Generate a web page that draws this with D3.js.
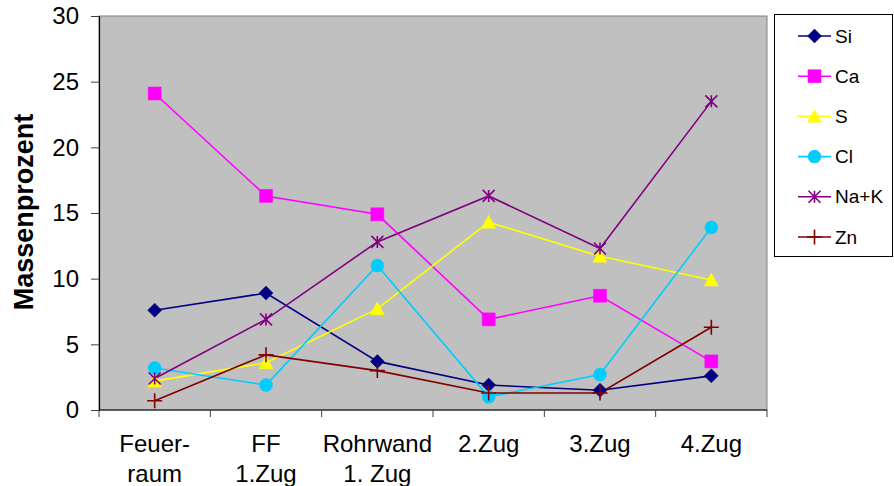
<!DOCTYPE html>
<html>
<head>
<meta charset="utf-8">
<script src="https://cdn.jsdelivr.net/npm/d3@7"></script>
<style>
  html, body { margin: 0; padding: 0; background: #ffffff; }
  svg { display: block; }
  text { font-family: "Liberation Sans", Arial, sans-serif; fill: #000; }
</style>
</head>
<body>
<svg id="chart" width="894" height="486"></svg>
<script>
// Sampling positions along the flue gas path (two-line labels)
const categories = [
  ["Feuer-", "raum"],
  ["FF", "1.Zug"],
  ["Rohrwand", "1. Zug"],
  ["2.Zug"],
  ["3.Zug"],
  ["4.Zug"]
];

// Mass percent per element
const si   = [7.6, 8.9, 3.7, 1.9, 1.5, 2.6];
const ca   = [24.1, 16.3, 14.9, 6.9, 8.7, 3.7];
const s    = [2.2, 3.6, 7.7, 14.3, 11.7, 9.9];
const cl   = [3.2, 1.9, 11.0, 1.0, 2.7, 13.9];
const naK  = [2.4, 6.9, 12.8, 16.3, 12.3, 23.5];
const zn   = [0.7, 4.2, 3.0, 1.3, 1.3, 6.3];

const seriesNames = ["Si", "Ca", "S", "Cl", "Na+K", "Zn"];
const yTicks = [0, 5, 10, 15, 20, 25, 30];

// Marker shapes as d3 symbol types (size = edge length squared)
const diamond = { draw(c, size) { const r = Math.sqrt(size) / 2;
  c.moveTo(0, -r); c.lineTo(r, 0); c.lineTo(0, r); c.lineTo(-r, 0); c.closePath(); } };
const square = { draw(c, size) { const r = Math.sqrt(size) / 2;
  c.rect(-r, -r, 2 * r, 2 * r); } };
const triangle = { draw(c, size) { const r = Math.sqrt(size) / 2;
  c.moveTo(0, -r); c.lineTo(r, r * 0.85); c.lineTo(-r, r * 0.85); c.closePath(); } };
const circle = { draw(c, size) { const r = Math.sqrt(size) / 2;
  c.moveTo(r, 0); c.arc(0, 0, r, 0, 2 * Math.PI); } };
const star = { draw(c, size) { const r = Math.sqrt(size) / 2;
  c.moveTo(0, -r); c.lineTo(0, r);
  c.moveTo(-r, -r); c.lineTo(r, r);
  c.moveTo(-r, r); c.lineTo(r, -r); } };
const plus = { draw(c, size) { const r = Math.sqrt(size) / 2;
  c.moveTo(0, -r); c.lineTo(0, r);
  c.moveTo(-r, 0); c.lineTo(r, 0); } };

const series = [
  { name: seriesNames[0], values: si,  color: "#000080", type: diamond,  size: 14 * 14, filled: true },
  { name: seriesNames[1], values: ca,  color: "#FF00FF", type: square,   size: 13 * 13, filled: true },
  { name: seriesNames[2], values: s,   color: "#FFFF00", type: triangle, size: 14 * 14, filled: true },
  { name: seriesNames[3], values: cl,  color: "#00CCFF", type: circle,   size: 13 * 13, filled: true },
  { name: seriesNames[4], values: naK, color: "#800080", type: star,     size: 12 * 12, filled: false },
  { name: seriesNames[5], values: zn,  color: "#800000", type: plus,     size: 15 * 15, filled: false }
];

const svg = d3.select("#chart");
const plot = { left: 99, top: 16, right: 767, bottom: 410 };

const x = d3.scaleBand()
  .domain(categories.map((d, i) => i))
  .range([plot.left, plot.right])
  .paddingInner(0).paddingOuter(0);
const y = d3.scaleLinear().domain([0, 30]).range([plot.bottom, plot.top]);
const cx = i => x(i) + x.bandwidth() / 2;

// Plot background
svg.append("rect")
  .attr("x", plot.left).attr("y", plot.top)
  .attr("width", plot.right - plot.left).attr("height", plot.bottom - plot.top)
  .attr("fill", "#C0C0C0").attr("stroke", "#808080").attr("stroke-width", 1);

// Y axis
const yAxis = svg.append("g")
  .attr("transform", `translate(${plot.left},0)`)
  .call(d3.axisLeft(y).tickValues(yTicks).tickSize(8).tickPadding(12).tickFormat(d3.format("d")));
yAxis.select(".domain").attr("stroke", "#000").attr("stroke-width", 1.2);
yAxis.selectAll(".tick line").attr("stroke", "#404040");
yAxis.selectAll(".tick text")
  .attr("font-size", 24).attr("font-family", "Liberation Sans, Arial, sans-serif").attr("fill", "#000");

// X axis with ticks on category boundaries
const bounds = d3.range(categories.length + 1).map(i => plot.left + i * x.bandwidth());
const xAxis = svg.append("g");
xAxis.append("line")
  .attr("x1", plot.left).attr("x2", plot.right)
  .attr("y1", plot.bottom).attr("y2", plot.bottom)
  .attr("stroke", "#000").attr("stroke-width", 1.2);
xAxis.selectAll("line.tick").data(bounds).join("line")
  .attr("class", "tick")
  .attr("x1", d => d).attr("x2", d => d)
  .attr("y1", plot.bottom).attr("y2", plot.bottom + 7)
  .attr("stroke", "#404040");
xAxis.selectAll("text.cat").data(categories).join("text")
  .attr("class", "cat")
  .attr("text-anchor", "middle")
  .attr("font-size", 24)
  .each(function (d, i) {
    const t = d3.select(this);
    d.forEach((line, j) => {
      t.append("tspan").attr("x", cx(i)).attr("y", 452 + j * 30).text(line);
    });
  });

// Y axis title
svg.append("text")
  .attr("transform", `translate(33,212) rotate(-90)`)
  .attr("text-anchor", "middle")
  .attr("font-size", 27)
  .attr("font-weight", "bold")
  .text("Massenprozent");

// Series lines and markers
const line = d3.line().x((d, i) => cx(i)).y(d => y(d));
const gSeries = svg.append("g");
series.forEach(sr => {
  gSeries.append("path")
    .datum(sr.values)
    .attr("d", line)
    .attr("fill", "none")
    .attr("stroke", sr.color)
    .attr("stroke-width", 1.6);
});
series.forEach(sr => {
  const sym = d3.symbol().type(sr.type).size(sr.size);
  gSeries.append("g").selectAll("path").data(sr.values).join("path")
    .attr("transform", (d, i) => `translate(${cx(i)},${y(d)})`)
    .attr("d", sym)
    .attr("fill", sr.filled ? sr.color : "none")
    .attr("stroke", sr.color)
    .attr("stroke-width", sr.filled ? 0.5 : 1.6);
});

// Legend
const legend = svg.append("g");
legend.append("rect")
  .attr("x", 774.5).attr("y", 14.5).attr("width", 118).attr("height", 242)
  .attr("fill", "#fff").attr("stroke", "#000").attr("stroke-width", 1);
const ly = d3.scalePoint().domain(seriesNames).range([36, 237]);
series.forEach(sr => {
  const yy = ly(sr.name);
  legend.append("line")
    .attr("x1", 798).attr("x2", 831).attr("y1", yy).attr("y2", yy)
    .attr("stroke", sr.color).attr("stroke-width", 1.6);
  legend.append("path")
    .attr("transform", `translate(814.5,${yy})`)
    .attr("d", d3.symbol().type(sr.type).size(sr.size))
    .attr("fill", sr.filled ? sr.color : "none")
    .attr("stroke", sr.color)
    .attr("stroke-width", sr.filled ? 0.5 : 1.6);
  legend.append("text")
    .attr("x", 835).attr("y", yy).attr("dy", "0.35em")
    .attr("font-size", 19)
    .text(sr.name);
});
</script>
</body>
</html>
